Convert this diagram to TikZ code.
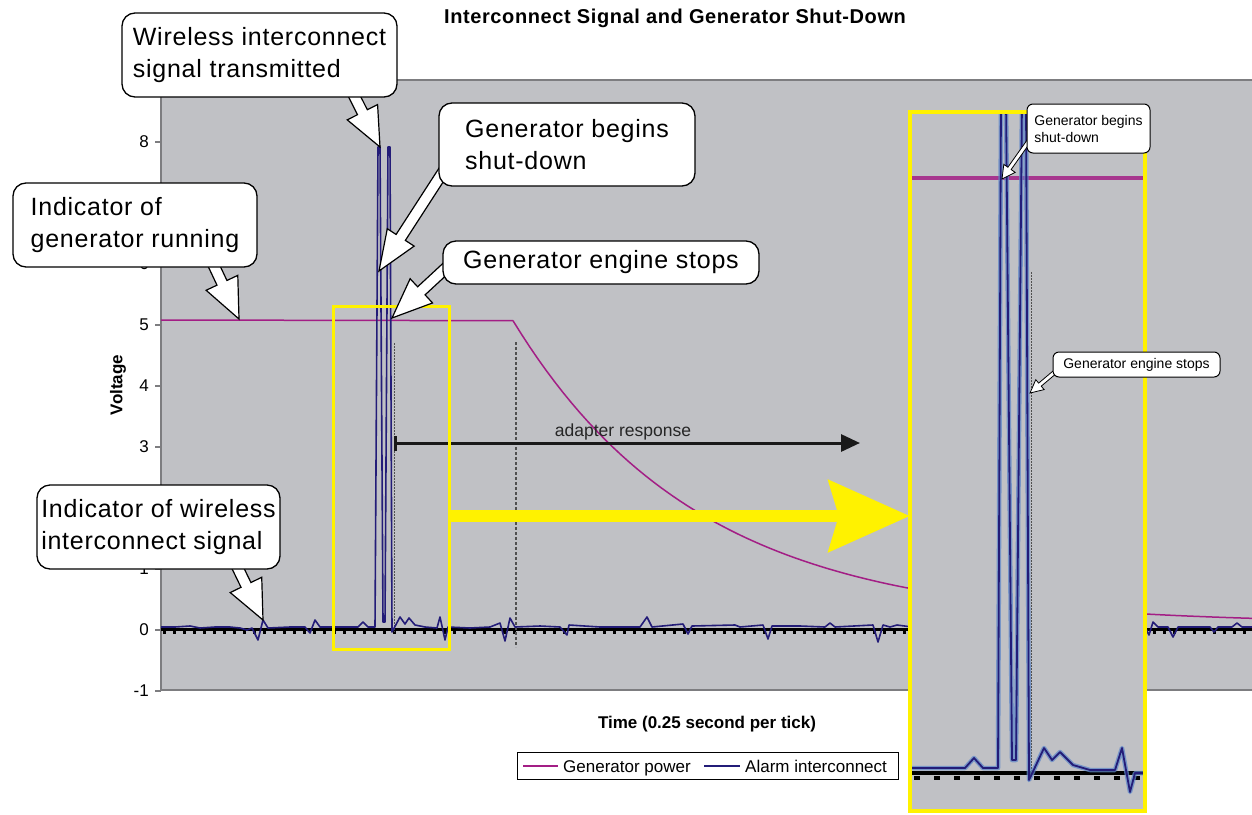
\documentclass[tikz,border=0pt]{standalone}
\usepackage{fontspec}
\setmainfont{Liberation Sans}
\newfontfamily\callfont[LetterSpace=3]{Liberation Sans}
\newfontfamily\titlefont[LetterSpace=3]{Liberation Sans}
\usetikzlibrary{calc,arrows.meta}
\pgfdeclarelayer{back}
\pgfdeclarelayer{arr}
\pgfsetlayers{back,arr,main}
\definecolor{plotgray}{RGB}{192,193,197}
\definecolor{genmag}{RGB}{163,30,133}
\definecolor{alarmnavy}{RGB}{35,28,120}
\definecolor{hiyellow}{RGB}{255,242,0}
\definecolor{haloblue}{RGB}{95,135,200}
\definecolor{axisgray}{RGB}{125,125,128}
\definecolor{guidegray}{RGB}{80,80,80}
% block callout arrow: start, tip, shaft half width, head half width, head length, line width
\newcommand{\callarrow}[6]{%
  \filldraw[fill=white,draw=black,line width=#6,line join=miter]
  (#2) -- ($(#2)!#5!(#1)!#4!90:(#2)$) -- ($(#2)!#5!(#1)!#3!90:(#2)$)
  -- ($(#1)!#3!90:(#2)$) -- ($(#1)!#3!-90:(#2)$)
  -- ($(#2)!#5!(#1)!#3!-90:(#2)$) -- ($(#2)!#5!(#1)!#4!-90:(#2)$) -- cycle;}
\begin{document}
\begin{tikzpicture}[x=1pt,y=-1pt,
  callout/.style={draw=black,line width=1.3pt,fill=white,rounded corners=13pt,align=left,inner sep=0pt,
    font=\callfont\fontsize{25}{32}\selectfont},
  smallcallout/.style={draw=black,line width=1pt,fill=white,rounded corners=6pt,align=left,inner sep=0pt,
    font=\fontsize{14}{17}\selectfont},
  ticklabel/.style={anchor=east,inner sep=0pt,font=\fontsize{17}{20}\selectfont},
  axistitle/.style={inner sep=0pt,font=\fontsize{17}{20}\selectfont\bfseries},
  genline/.style={genmag,line width=1.5pt,line join=round},
  alarmline/.style={alarmnavy,line width=1.6pt,line join=round},
  yellowbox/.style={draw=hiyellow,line width=3pt,inner sep=0pt},
  legendtext/.style={anchor=base west,inner sep=0pt,font=\fontsize{17}{20}\selectfont}
]
\useasboundingbox (0,0) rectangle (1252,814);
\begin{pgfonlayer}{back}
\fill[white] (0,0) rectangle (1252,814);
% plot area
\fill[plotgray] (161,80) rectangle (1252,690);
\draw[axisgray,line width=1.2pt] (1252,80) -- (161,80) -- (161,690) -- (1252,690);
\foreach \v in {-1,0,1,2,3,4,5,6,7,8,9}{
  \draw[axisgray,line width=1.2pt] (155,{630-61*\v}) -- (161,{630-61*\v});
}
\foreach \v in {-1,0,1,3,4,5,6,8}{
  \node[ticklabel] (yl\v) at (149,{630-61*\v}) {\v};
}
\node[axistitle,rotate=90] (ytitle) at (118,385) {Voltage};
\node[axistitle,anchor=base] (xtitle) at (707,728) {Time (0.25 second per tick)};
\node[anchor=base,inner sep=0pt,font=\titlefont\fontsize{20}{24}\selectfont\bfseries] (title) at (675,23) {Interconnect Signal and Generator Shut-Down};
% generator power
\draw[genline] (161,320) -- (513,320.7) -- plot[domain=513:1252,samples=90] (\x,{630-61*(0.1+4.97*exp(-(\x-513)/185))});
% zero axis
\draw[black,line width=3.5pt] (161,629.5) -- (1252,629.5);
\draw[black,line width=3pt,dash pattern=on 3pt off 7pt] (163,632.5) -- (1252,632.5);
% guide lines
\draw[guidegray,line width=1pt,dash pattern=on 1.5pt off 1.5pt] (394,343) -- (394,632);
\draw[guidegray,line width=1.2pt,dash pattern=on 3pt off 2pt] (516,342) -- (516,647);
% alarm interconnect
\draw[alarmline] plot coordinates {(161,627) (175,627) (190,626) (200,628) (215,627) (230,627) (240,628) (247,630) (252,628) (258,640) (263,620) (268,628) (290,627) (305,627) (310,633) (315,620) (320,627) (345,627) (358,627) (363,622) (368,627) (375,627) (378,147) (380,147) (383,622) (385,622) (388,147) (390,147) (392,632) (400,617) (405,624) (409,618) (415,625) (425,627) (437,628) (440,617) (445,640) (448,627) (470,628) (490,627) (500,623) (505,641) (510,618) (515,627) (540,626) (560,627) (567,635) (569,625) (600,627) (640,627) (647,617) (652,627) (683,624) (688,634) (692,626) (735,625) (740,627) (763,625) (768,639) (772,626) (800,626) (825,627) (830,623) (835,627) (873,625) (878,642) (883,625) (890,627) (897,625) (912,627) (1145,627) (1149,635) (1153,622) (1158,627) (1168,627) (1173,637) (1178,627) (1210,627) (1214,632) (1218,627) (1232,627) (1237,623) (1242,627) (1252,627)};
% adapter response
\coordinate (ar1) at (394,443);
\coordinate (ar2) at (860,443);
\draw[black!90,line width=3pt,{Bar[width=15pt,line width=2.5pt]}-{Triangle[length=19pt,width=17pt]}] (ar1) -- (ar2);
\node[anchor=base,inner sep=0pt,font=\fontsize{17.5}{20}\selectfont,text=black!85] (adlabel) at (623,436) {adapter response};
% zoom box and magnifier arrow
\node[yellowbox,minimum width=116pt,minimum height=343pt] (zoombox) at (391,477.5) {};
\node[fill=plotgray,inner sep=0pt,minimum width=235pt,minimum height=699pt] (inset) at (1027.5,461.5) {};
\coordinate (ys) at ($(zoombox.east)+(0,38.5)$);
\draw[hiyellow,line width=12pt,-{Stealth[length=81pt,width=71pt,inset=10pt]}] (ys) -- (inset.west |- ys);
% inset content
\begin{scope}
\clip (inset.south west) rectangle (inset.north east);
\draw[genmag,line width=4.5pt,opacity=.85] (910,178) -- (1145,178);
\draw[black,line width=4.5pt] (910,773) -- (1145,773);
\draw[black,line width=4pt,dash pattern=on 6pt off 14pt] (914,778) -- (1145,778);
\draw[guidegray,line width=1pt,dash pattern=on 1.5pt off 1.5pt] (1031,272) -- (1031,776);
\draw[haloblue,line width=4.5pt,line join=round,opacity=.75] plot coordinates {(912,768) (965,768) (974,758) (983,768) (998,768) (1001,100) (1006,100) (1012,760) (1016,760) (1022,100) (1026,100) (1029,780) (1044,748) (1052,760) (1060,752) (1073,765) (1090,770) (1115,770) (1122,748) (1130,792) (1135,773) (1145,773)};
\draw[alarmnavy,line width=1.8pt,line join=round] plot coordinates {(912,768) (965,768) (974,758) (983,768) (998,768) (1001,100) (1006,100) (1012,760) (1016,760) (1022,100) (1026,100) (1029,780) (1044,748) (1052,760) (1060,752) (1073,765) (1090,770) (1115,770) (1122,748) (1130,792) (1135,773) (1145,773)};
\end{scope}
\draw[hiyellow,line width=4pt] (inset.south west) rectangle (inset.north east);
\end{pgfonlayer}
% legend
\node[draw=black,line width=0.8pt,fill=white,inner sep=0pt,minimum width=381pt,minimum height=27pt] (legend) at (707.5,765.5) {};
\draw[genmag,line width=1.5pt] (523,766) -- (558,766);
\node[legendtext] (leg1) at (563,772) {Generator power};
\draw[alarmnavy,line width=1.5pt] (704,766) -- (740,766);
\node[legendtext] (leg2) at (745,772) {Alarm interconnect};
% callouts
\node[callout,minimum width=275pt,minimum height=84pt] (c1) at (259.5,55) {Wireless interconnect\\signal transmitted};
\node[callout,minimum width=244pt,minimum height=84pt] (c2) at (135,225) {Indicator of\\generator running};
\node[callout,minimum width=256pt,minimum height=83pt] (c3) at (567,144.5) {Generator begins\\shut-down};
\node[callout,minimum width=316pt,minimum height=43pt] (c4) at (601,262.5) {Generator engine stops};
\node[callout,minimum width=243pt,minimum height=84pt] (c5) at (158.5,527) {Indicator of wireless\\interconnect signal};
\node[smallcallout,minimum width=123pt,minimum height=49pt] (c6) at (1088.5,128.5) {Generator begins\\shut-down};
\node[smallcallout,minimum width=167pt,minimum height=25pt] (c7) at (1136.5,364.5) {Generator engine stops};
\coordinate (s1) at ([xshift=89.5pt,yshift=12pt]c1.south);
\coordinate (t1) at (380,147);
\coordinate (s2) at ([xshift=74.3pt,yshift=11.7pt]c2.south);
\coordinate (t2) at (239,319);
\coordinate (s3) at ([xshift=8.1pt,yshift=19.9pt]c3.south west);
\coordinate (t3) at (379,271);
\coordinate (s4) at ([xshift=4.3pt,yshift=-4.9pt]c4.west);
\coordinate (t4) at (392,318);
\coordinate (s5) at ([xshift=74.5pt,yshift=11.5pt]c5.south);
\coordinate (t5) at (263,620);
\coordinate (s6) at ([xshift=5.3pt,yshift=-8.3pt]c6.west);
\coordinate (t6) at (1002,179);
\coordinate (s7) at ([xshift=4.8pt,yshift=-5.5pt]c7.west);
\coordinate (t7) at (1030,393);
\begin{pgfonlayer}{arr}
\callarrow{s1}{t1}{5.5pt}{17pt}{39pt}{1.2pt}
\callarrow{s2}{t2}{5.5pt}{17.5pt}{40pt}{1.2pt}
\callarrow{s3}{t3}{5.5pt}{16pt}{40pt}{1.2pt}
\callarrow{s4}{t4}{5.5pt}{16.5pt}{40pt}{1.2pt}
\callarrow{s5}{t5}{5.5pt}{17.5pt}{39pt}{1.2pt}
\callarrow{s6}{t6}{2pt}{7pt}{13pt}{0.8pt}
\callarrow{s7}{t7}{2pt}{6.5pt}{13pt}{0.8pt}
\end{pgfonlayer}
\end{tikzpicture}
\end{document}
